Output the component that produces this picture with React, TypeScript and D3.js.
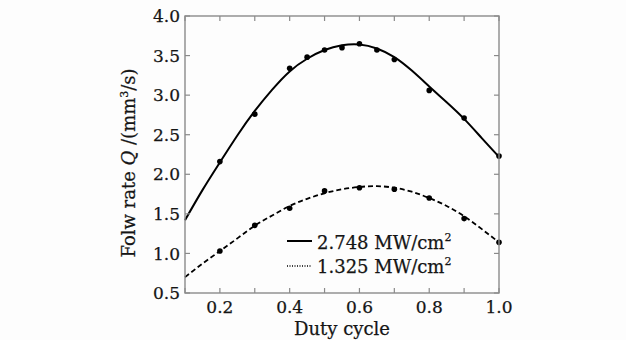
import React from "react";
import * as d3 from "d3";

// measured points
const dutyA = [0.2, 0.3, 0.4, 0.45, 0.5, 0.55, 0.6, 0.65, 0.7, 0.8, 0.9, 1.0];
const flowA = [2.16, 2.76, 3.34, 3.48, 3.57, 3.6, 3.65, 3.57, 3.45, 3.06, 2.71, 2.23];
const dutyB = [0.2, 0.3, 0.4, 0.5, 0.6, 0.7, 0.8, 0.9, 1.0];
const flowB = [1.03, 1.355, 1.57, 1.79, 1.83, 1.81, 1.7, 1.44, 1.14];

// fitted curves
const fitX = [0.1, 0.15, 0.2, 0.25, 0.3, 0.35, 0.4, 0.45, 0.5, 0.55, 0.6, 0.65, 0.7, 0.75, 0.8, 0.85, 0.9, 0.95, 1.0];
const fitA = [1.42, 1.8, 2.15, 2.49, 2.8, 3.07, 3.3, 3.46, 3.57, 3.63, 3.64, 3.59, 3.48, 3.31, 3.11, 2.91, 2.7, 2.46, 2.22];
const fitB = [0.7, 0.87, 1.03, 1.19, 1.35, 1.48, 1.6, 1.69, 1.76, 1.81, 1.84, 1.85, 1.83, 1.78, 1.7, 1.6, 1.47, 1.31, 1.14];

const xTicks = [0.2, 0.4, 0.6, 0.8, 1.0];
const xMinor = [0.1, 0.2, 0.3, 0.4, 0.5, 0.6, 0.7, 0.8, 0.9, 1.0];
const yTicks = [0.5, 1.0, 1.5, 2.0, 2.5, 3.0, 3.5, 4.0];
const legendLabels = ["2.748 MW/cm", "1.325 MW/cm"];

const W = 626;
const H = 340;
const box = { left: 185, right: 499, top: 16, bottom: 293 };
const font = "DejaVu Serif, serif";
const axisColor = "#8a8a8a";
const textColor = "#151515";

export default function App() {
  const x = d3.scaleLinear().domain([0.1, 1.0]).range([box.left, box.right]);
  const y = d3.scaleLinear().domain([0.5, 4.0]).range([box.bottom, box.top]);

  const line = d3.line<number>()
    .x((d, i) => x(fitX[i]))
    .y((d) => y(d))
    .curve(d3.curveNatural);

  const tick = 5;
  const txt = { fontFamily: font, fill: textColor, stroke: textColor, strokeWidth: 0.25 };

  return (
    <svg width={W} height={H} style={{ position: "absolute", left: 0, top: 0, background: "#fdfdfd" }}>
      {/* curves */}
      <path d={line(fitA) || ""} fill="none" stroke="#000" strokeWidth={2} />
      <path d={line(fitB) || ""} fill="none" stroke="#000" strokeWidth={1.8} strokeDasharray="5,3" />

      {dutyA.map((d, i) => (
        <circle key={"a" + i} cx={x(d)} cy={y(flowA[i])} r={2.8} fill="#000" />
      ))}
      {dutyB.map((d, i) => (
        <circle key={"b" + i} cx={x(d)} cy={y(flowB[i])} r={2.8} fill="#000" />
      ))}

      {/* frame */}
      <rect x={box.left} y={box.top} width={box.right - box.left} height={box.bottom - box.top}
        fill="none" stroke={axisColor} strokeWidth={1.4} />

      {xMinor.map((t) => (
        <g key={"xt" + t}>
          <line x1={x(t)} x2={x(t)} y1={box.bottom} y2={box.bottom - tick} stroke={axisColor} strokeWidth={1.2} />
          <line x1={x(t)} x2={x(t)} y1={box.top} y2={box.top + tick} stroke={axisColor} strokeWidth={1.2} />
        </g>
      ))}
      {yTicks.map((t) => (
        <g key={"yt" + t}>
          <line x1={box.left} x2={box.left + tick} y1={y(t)} y2={y(t)} stroke={axisColor} strokeWidth={1.2} />
          <line x1={box.right} x2={box.right - tick} y1={y(t)} y2={y(t)} stroke={axisColor} strokeWidth={1.2} />
          <text x={box.left - 5} y={y(t)} dy="0.36em" textAnchor="end" fontSize={17} {...txt}>
            {t.toFixed(1)}
          </text>
        </g>
      ))}
      {xTicks.map((t) => (
        <text key={"xl" + t} x={x(t)} y={313} textAnchor="middle" fontSize={17} {...txt}>
          {t.toFixed(1)}
        </text>
      ))}

      {/* axis titles */}
      <text x={342} y={335} textAnchor="middle" fontSize={18} {...txt}>Duty cycle</text>
      <text transform="translate(135,163) rotate(-90)" textAnchor="middle" fontSize={18} {...txt}>
        Folw rate <tspan fontStyle="italic">Q</tspan> /(mm<tspan dy={-7} fontSize={11}>3</tspan><tspan dy={7}>/s)</tspan>
      </text>

      {/* legend */}
      <line x1={287} x2={312} y1={241} y2={241} stroke="#000" strokeWidth={2} />
      <text x={317} y={249} fontSize={18} {...txt}>
        {legendLabels[0]}<tspan dy={-8} fontSize={11}>2</tspan>
      </text>
      <line x1={287} x2={312} y1={266} y2={266} stroke="#000" strokeWidth={1.5} strokeDasharray="1,1.5" />
      <text x={317} y={273} fontSize={18} {...txt}>
        {legendLabels[1]}<tspan dy={-8} fontSize={11}>2</tspan>
      </text>
    </svg>
  );
}
